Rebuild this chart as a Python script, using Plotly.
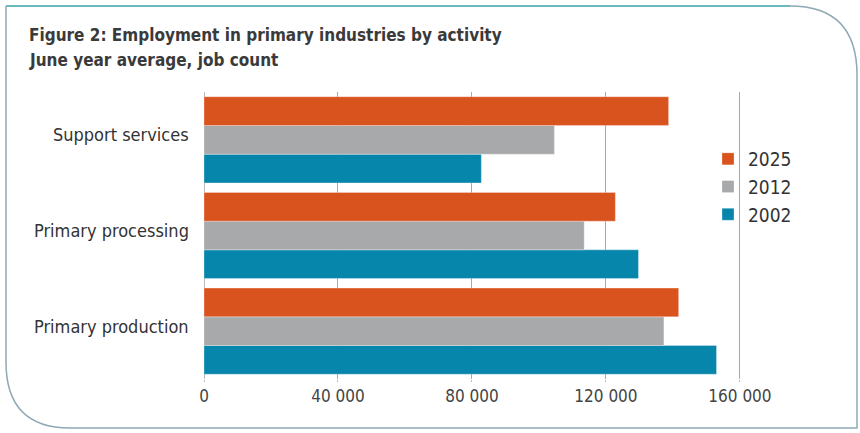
import plotly.graph_objects as go

categories = ["Support services", "Primary processing", "Primary production"]
years = ["2025", "2012", "2002"]
values_2025 = [138700, 122800, 141700]
values_2012 = [104600, 113500, 137300]
values_2002 = [82800, 129700, 153000]
tick_vals = [0, 40000, 80000, 120000, 160000]
tick_text = ["0", "40 000", "80 000", "120 000", "160 000"]
colors = {"2025": "#D9531E", "2012": "#A7A9AB", "2002": "#0786AB"}

W, H = 860, 433
L, R, T, B = 204, 750, 92, 379
XMAX = 163000


def px(x):
    return (x - L) / (R - L)


def py(y):
    return (B - y) / (B - T)


FONT = "Liberation Sans Narrow, DejaVu Sans Condensed, Arial Narrow, sans-serif"

series = {"2025": values_2025, "2012": values_2012, "2002": values_2002}
fig = go.Figure()
for yr in ["2002", "2012", "2025"]:
    fig.add_trace(go.Bar(
        y=categories, x=series[yr], name=yr, orientation="h",
        marker=dict(color=colors[yr], line=dict(color="rgba(255,255,255,0.6)", width=0.5)),
    ))

fig.update_layout(
    width=W, height=H,
    margin=dict(l=L, r=W - R, t=T, b=H - B),
    paper_bgcolor="white", plot_bgcolor="white",
    barmode="group", bargap=0.1, bargroupgap=0,
    font=dict(family=FONT, color="#333333", size=16),
    showlegend=True,
    legend=dict(
        x=px(708), y=py(140), xanchor="left", yanchor="top",
        traceorder="reversed", font=dict(size=19, color="#333333"),
        bgcolor="rgba(0,0,0,0)", itemwidth=30,
    ),
    xaxis=dict(
        range=[0, XMAX], tickvals=tick_vals, ticktext=tick_text,
        showgrid=True, gridcolor="#a8a8a8", gridwidth=1,
        zeroline=True, zerolinecolor="#bbbbbb", zerolinewidth=1,
        showline=False, ticks="outside", ticklen=2, tickcolor="#bbbbbb",
        tickfont=dict(size=17, color="#444444"), fixedrange=True,
    ),
    yaxis=dict(
        categoryorder="array", categoryarray=list(reversed(categories)),
        showgrid=False, zeroline=False, showline=False, ticks="",
        showticklabels=False,
    ),
)

for cat in categories:
    fig.add_annotation(
        text=cat, xref="paper", yref="y", x=px(191), y=cat,
        xanchor="right", yanchor="middle", yshift=5, showarrow=False,
        font=dict(size=18, color="#333333"),
    )

fig.add_annotation(
    text="<b>Figure 2: Employment in primary industries by activity</b>",
    xref="paper", yref="paper", x=px(27), y=py(35), xanchor="left", yanchor="middle",
    showarrow=False, font=dict(family="DejaVu Sans Condensed, Liberation Sans Narrow, sans-serif", size=17, color="#3a3a3a"),
)
fig.add_annotation(
    text="<b>June year average, job count</b>",
    xref="paper", yref="paper", x=px(27), y=py(60), xanchor="left", yanchor="middle",
    showarrow=False, font=dict(family="DejaVu Sans Condensed, Liberation Sans Narrow, sans-serif", size=17, color="#3a3a3a"),
)

# Frame
top_path = f"M {px(6)} {py(6)} L {px(790)} {py(6)}"
rest_path = (
    f"M {px(790)} {py(6)} Q {px(857)} {py(6)} {px(857)} {py(75)} "
    f"L {px(857)} {py(428)} L {px(70)} {py(428)} "
    f"Q {px(6)} {py(428)} {px(6)} {py(362)} L {px(6)} {py(6)}"
)
fig.add_shape(type="path", path=rest_path, xref="paper", yref="paper",
              line=dict(color="#8fa9b4", width=1.5))
fig.add_shape(type="path", path=top_path, xref="paper", yref="paper",
              line=dict(color="#6db8bd", width=2))

fig.write_html("out.html")
